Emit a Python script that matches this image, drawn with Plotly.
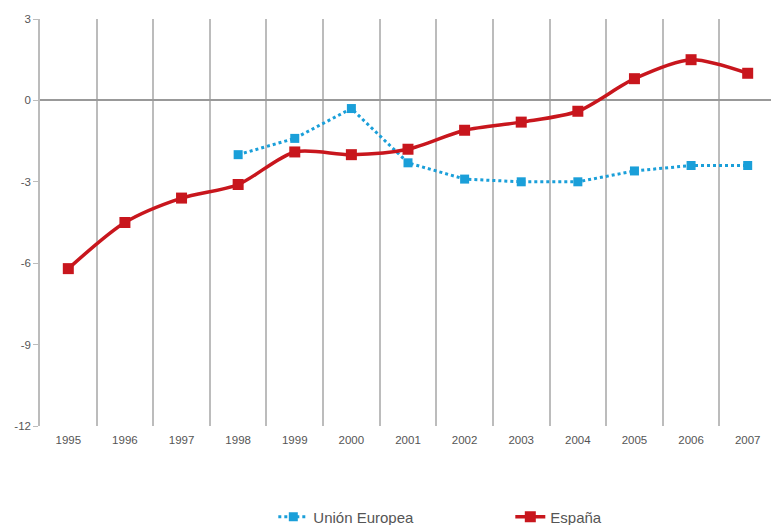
import plotly.graph_objects as go

years = ["1995", "1996", "1997", "1998", "1999", "2000", "2001",
         "2002", "2003", "2004", "2005", "2006", "2007"]
ue_years = ["1998", "1999", "2000", "2001", "2002", "2003", "2004", "2005", "2006", "2007"]
ue_values = [-2.0, -1.4, -0.3, -2.3, -2.9, -3.0, -3.0, -2.6, -2.4, -2.4]
es_values = [-6.2, -4.5, -3.6, -3.1, -1.9, -2.0, -1.8, -1.1, -0.8, -0.4, 0.8, 1.5, 1.0]
y_ticks = [3, 0, -3, -6, -9, -12]

RED = "#c8161d"
BLUE = "#1a9fd9"
GRID = "#bcbcbc"
TXT = "#555555"

fig = go.Figure()
fig.add_trace(go.Scatter(
    x=ue_years, y=ue_values, name="Unión Europea", mode="lines+markers",
    line=dict(color=BLUE, width=3, dash="dot"),
    marker=dict(symbol="square", size=9, color=BLUE),
))
fig.add_trace(go.Scatter(
    x=years, y=es_values, name="España", mode="lines+markers",
    line=dict(color=RED, width=3.5, shape="spline", smoothing=0.8),
    marker=dict(symbol="square", size=11, color=RED),
))

fig.update_layout(
    width=771, height=530,
    margin=dict(l=32, r=3, t=11, b=112),
    paper_bgcolor="white", plot_bgcolor="white",
    font=dict(family="Liberation Sans, Arial, sans-serif", size=11, color=TXT),
    showlegend=True,
    legend=dict(orientation="h", x=0.317, xanchor="left", y=-0.2236, yanchor="middle",
                font=dict(size=15, color=TXT), entrywidth=192, entrywidthmode="pixels",
                traceorder="normal"),
)
fig.update_xaxes(
    type="category", categoryorder="array", categoryarray=years,
    range=[-0.5, 12.5], tickson="boundaries", showgrid=True, gridcolor=GRID, gridwidth=1.5,
    ticks="", showline=False, zeroline=False, ticklabelstandoff=5, automargin=False,
    tickfont=dict(size=11.5, color=TXT),
)
fig.update_yaxes(
    range=[-12, 3], tickvals=y_ticks, ticktext=[str(v) for v in y_ticks],
    showgrid=False, zeroline=True, zerolinecolor="#999999", zerolinewidth=1.5,
    showline=True, linecolor=GRID, linewidth=1.5, ticks="outside", ticklen=5,
    tickcolor=GRID, tickfont=dict(size=11.5, color=TXT), automargin=False,
)

fig.write_html("out.html")
